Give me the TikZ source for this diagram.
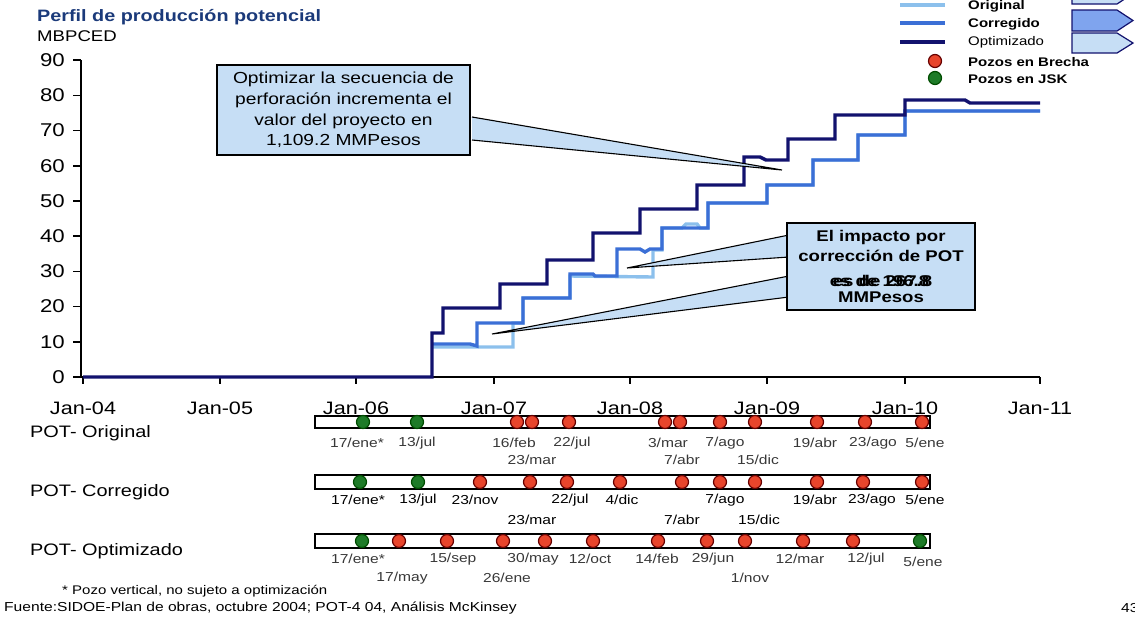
\documentclass[tikz,border=0pt]{standalone}
\usepackage{fontspec}
\setmainfont[FakeStretch=1.2]{Liberation Sans}
\definecolor{cOrig}{HTML}{8CC0EC}
\definecolor{cCorr}{HTML}{3B6FD6}
\definecolor{cOpt}{HTML}{12126E}
\definecolor{cFill}{HTML}{C6DEF5}
\definecolor{cMed}{HTML}{7FA4EE}
\definecolor{cTitle}{HTML}{1B3A7A}
\definecolor{cRed}{HTML}{E8452C}
\definecolor{cGreen}{HTML}{1E7B28}
\begin{document}
\begin{tikzpicture}[x=1pt,y=-1pt,
  ylab/.style={anchor=east,inner sep=0,font=\fontsize{18.5}{18.5}\selectfont},
  xlab/.style={inner sep=0,font=\fontsize{18}{18}\selectfont},
  rowlab/.style={anchor=west,inner sep=0,font=\fontsize{16.6}{16.6}\selectfont},
  dlab/.style={inner sep=0,text=black!78,font=\fontsize{13}{13}\selectfont},
  dlabb/.style={inner sep=0,text=black,font=\fontsize{13}{13}\selectfont},
  legt/.style={anchor=west,inner sep=0,font=\fontsize{12.5}{12.5}\selectfont\bfseries},
  dotr/.style={circle,fill=cRed,draw=black!60!red,line width=1.2pt,minimum size=13pt,inner sep=0},
  dotg/.style={circle,fill=cGreen,draw=black!70!green,line width=1.2pt,minimum size=13pt,inner sep=0},
  bar/.style={draw=black,fill=white,line width=1.6pt},
  serie/.style={line width=3.4pt,line join=miter},
  callout/.style={draw=black,fill=cFill,line width=1.3pt,align=center,inner sep=0},
  wedge/.style={draw=black,line width=1.1pt},
  foot/.style={anchor=west,inner sep=0,font=\fontsize{12.5}{12.5}\selectfont}
]
\useasboundingbox (0,0) rectangle (1135,619);

% title
\node[anchor=west,inner sep=0,text=cTitle,font=\fontsize{16.5}{16.5}\selectfont\bfseries] (title) at (37,17) {Perfil de producción potencial};
\node[anchor=west,inner sep=0,font=\fontsize{15.5}{15.5}\selectfont] (unit) at (37,36) {MBPCED};

% axes
\draw[line width=1.8pt] (81,60) -- (81,377) -- (1040,377);
\foreach \v [count=\i from 0] in {0,10,20,30,40,50,60,70,80,90} {
  \draw[line width=1.5pt] (73,{377-3.52*\v}) -- (81,{377-3.52*\v});
  \node[ylab] (yl\i) at (65,{377-3.52*\v}) {\v};
}
\foreach \x/\t [count=\i] in {83/Jan-04,220/Jan-05,356/Jan-06,494/Jan-07,630/Jan-08,767/Jan-09,905/Jan-10,1040/Jan-11} {
  \draw[line width=1.5pt] (\x,377) -- (\x,384);
  \node[xlab] (xl\i) at (\x,408) {\t};
}

% series
\draw[serie,cOrig] (432,347) -- (513,347) -- (513,323) -- (523,323) -- (523,298) -- (570,298) -- (570,276) -- (653,277) -- (653,250) -- (662,250) -- (662,228) -- (682,228) -- (686,224) -- (697,224) -- (700,228) -- (708,228) -- (708,203) -- (767,203) -- (767,185) -- (813,185) -- (813,160) -- (858,160) -- (858,135) -- (905,135) -- (905,111) -- (1040,111);
\draw[serie,cCorr] (432,344) -- (470,344) -- (477,346) -- (477,323) -- (523,323) -- (523,298) -- (570,298) -- (570,274) -- (593,274) -- (595,276) -- (617,276) -- (617,249) -- (640,249) -- (645,252) -- (650,249) -- (662,249) -- (662,228) -- (708,228) -- (708,203) -- (767,203) -- (767,185) -- (813,185) -- (813,160) -- (858,160) -- (858,135) -- (905,135) -- (905,111) -- (1040,111);
\draw[serie,cOpt] (83,377) -- (432,377) -- (432,333) -- (443,333) -- (443,308) -- (500,308) -- (500,284) -- (547,284) -- (547,260) -- (593,260) -- (593,233) -- (640,233) -- (640,209) -- (697,209) -- (697,185) -- (744,185) -- (744,157) -- (760,157) -- (766,160) -- (788,160) -- (788,139) -- (835,139) -- (835,115) -- (905,115) -- (905,100) -- (965,100) -- (970,103) -- (1040,103);

% callout 1
\coordinate (w1a) at (472,117);
\coordinate (w1t) at (782,170);
\coordinate (w1b) at (472,140);
\fill[cFill] (w1a) -- (w1t) -- (w1b) -- cycle;
\draw[wedge] (w1a) -- (w1t) -- (w1b);
\node[callout,minimum width=253pt,minimum height=90pt,font=\fontsize{16}{20.7}\selectfont] (c1) at (343.5,110)
  {Optimizar la secuencia de\\perforación incrementa el\\valor del proyecto en\\1,109.2 MMPesos};

% callout 2
\coordinate (w2a) at (789,235);
\coordinate (w2t) at (627,268);
\coordinate (w2b) at (789,257);
\coordinate (w3a) at (789,276);
\coordinate (w3t) at (492,334);
\coordinate (w3b) at (789,297);
\fill[cFill] (w2a) -- (w2t) -- (w2b) -- cycle;
\draw[wedge] (w2a) -- (w2t) -- (w2b);
\fill[cFill] (w3a) -- (w3t) -- (w3b) -- cycle;
\draw[wedge] (w3a) -- (w3t) -- (w3b);
\node[callout,minimum width=188pt,minimum height=87pt,font=\fontsize{15.5}{20.3}\selectfont\bfseries] (c2) at (881,266.5)
  {El impacto por\\corrección de POT\\\phantom{es de 196.8}\\MMPesos};
\node[inner sep=0,font=\fontsize{15.5}{15.5}\selectfont\bfseries] (c2a) at (879.5,281) {es de 196.8};
\node[inner sep=0,font=\fontsize{15.5}{15.5}\selectfont\bfseries] (c2b) at (882.5,281) {es de 267.8};

% legend
\draw[cOrig,line width=3.5pt] (900,5) -- (945,5);
\draw[cCorr,line width=3.5pt] (900,23) -- (945,23);
\draw[cOpt,line width=3.5pt] (900,42) -- (945,42);
\node[dotr] (lr) at (935,61) {};
\node[dotg] (lg) at (935,78) {};
\node[legt] (l1) at (968,6) {Original};
\node[legt] (l2) at (968,24) {Corregido};
\node[legt,font=\fontsize{12.5}{12.5}\selectfont\mdseries] (l3) at (968,42) {Optimizado};
\node[legt] (l4) at (968,62) {Pozos en Brecha};
\node[legt] (l5) at (968,79) {Pozos en JSK};
\draw[fill=cFill,draw=cOpt,line width=1.2pt] (1072,-17) -- (1117,-17) -- (1133,-6.5) -- (1117,4) -- (1072,4) -- cycle;
\draw[fill=cMed,draw=cOpt,line width=1.2pt] (1072,10) -- (1117,10) -- (1133,20.5) -- (1117,31) -- (1072,31) -- cycle;
\draw[fill=cFill,draw=cOpt,line width=1.2pt] (1072,33) -- (1117,33) -- (1133,43) -- (1117,53) -- (1072,53) -- cycle;

% timeline rows
\node[rowlab] (r1) at (30,433) {POT- Original};
\node[rowlab] (r2) at (30,492) {POT- Corregido};
\node[rowlab] (r3) at (30,551) {POT- Optimizado};
\draw[bar] (315,416) rectangle (930,428);
\draw[bar] (315,475) rectangle (930,489);
\draw[bar] (315,534) rectangle (930,548);

\foreach \x [count=\i] in {363,417} \node[dotg] (ag\i) at (\x,422) {};
\foreach \x [count=\i] in {517,532,569,665,680,720,755,817,865,922} \node[dotr] (ar\i) at (\x,422) {};
\foreach \x [count=\i] in {360,418} \node[dotg] (bg\i) at (\x,482) {};
\foreach \x [count=\i] in {480,530,567,620,682,720,755,817,863,922} \node[dotr] (br\i) at (\x,482) {};
\foreach \x [count=\i] in {362,920} \node[dotg] (cg\i) at (\x,541) {};
\foreach \x [count=\i] in {399,447,503,545,593,658,707,745,803,853} \node[dotr] (cr\i) at (\x,541) {};

\foreach \x/\t [count=\i] in {357/{17/ene*},417/{13/jul},514/{16/feb},572/{22/jul},668/{3/mar},725/{7/ago},815/{19/abr},873/{23/ago},925/{5/ene}}
  \node[dlab] (at\i) at (\x,443) {\t};
\foreach \x/\t [count=\i] in {532/{23/mar},682/{7/abr},758/{15/dic}}
  \node[dlab] (au\i) at (\x,460) {\t};
\foreach \x/\t [count=\i] in {358/{17/ene*},418/{13/jul},475/{23/nov},570/{22/jul},622/{4/dic},725/{7/ago},815/{19/abr},872/{23/ago},925/{5/ene}}
  \node[dlabb] (bt\i) at (\x,500) {\t};
\foreach \x/\t [count=\i] in {532/{23/mar},682/{7/abr},759/{15/dic}}
  \node[dlabb] (bu\i) at (\x,520) {\t};
\foreach \x/\t [count=\i] in {358/{17/ene*},453/{15/sep},533/{30/may},590/{12/oct},657/{14/feb},713/{29/jun},800/{12/mar},866/{12/jul}}
  \node[dlab] (ct\i) at (\x,559) {\t};
\node[dlab] (ct9) at (923,562) {5/ene};
\foreach \x/\t [count=\i] in {402/{17/may},507/{26/ene},750/{1/nov}}
  \node[dlab] (cu\i) at (\x,578) {\t};

% footer
\node[foot] (f1) at (62,591) {* Pozo vertical, no sujeto a optimización};
\node[foot,font=\fontsize{13}{13}\selectfont] (f2) at (4,608) {Fuente:SIDOE-Plan de obras, octubre 2004; POT-4 04, Análisis McKinsey};
\node[foot,font=\fontsize{13}{13}\selectfont] (f3) at (1121,608) {43};
\end{tikzpicture}
\end{document}
